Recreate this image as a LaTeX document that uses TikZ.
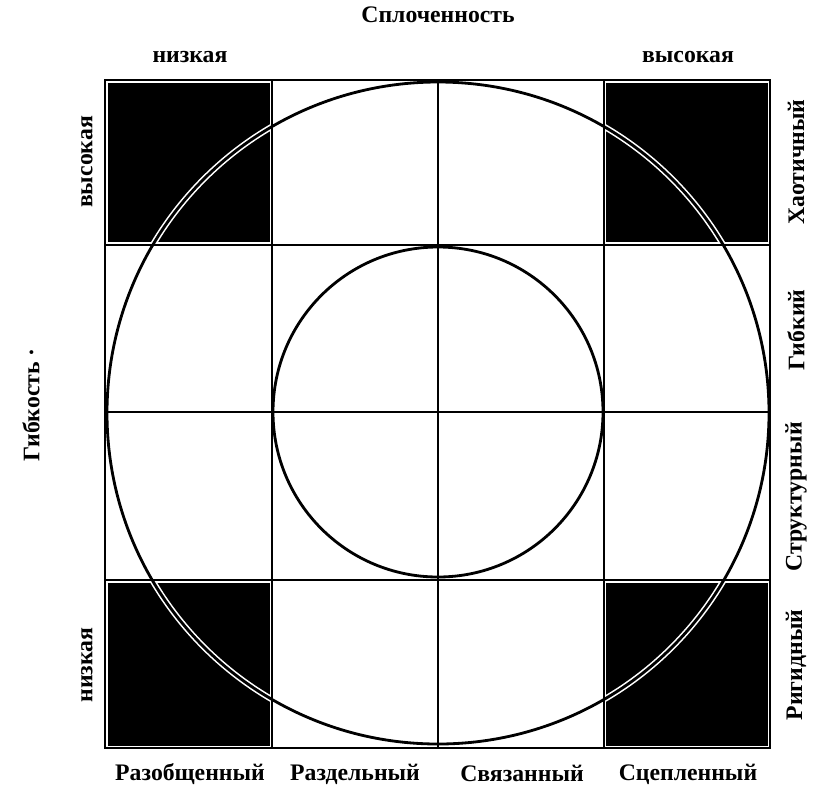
\documentclass[tikz,border=0pt]{standalone}
\usepackage{fontspec}
\setmainfont{Liberation Serif}
\usetikzlibrary{positioning}

\tikzset{
  axislabel/.style={font=\fontsize{13.5}{16}\selectfont\bfseries, inner sep=0pt},
  typelabel/.style={font=\fontsize{13.5}{16}\selectfont\bfseries, inner sep=0pt},
  cornercell/.style={fill=black},
  gridline/.style={line width=1.2pt},
  ringline/.style={line width=1.6pt},
}

\begin{document}
\begin{tikzpicture}[x=0.02cm, y=-0.02cm]
  \useasboundingbox (0,0) rectangle (827,798);

  % Black corner cells
  \fill[cornercell] (108,83) rectangle (270,242);
  \fill[cornercell] (606,83) rectangle (768,242);
  \fill[cornercell] (108,583) rectangle (270,746);
  \fill[cornercell] (606,583) rectangle (768,746);

  % Grid
  \draw[gridline] (105,80) rectangle (770,748);
  \foreach \gx in {272,438,604}
    \draw[gridline] (\gx,80) -- (\gx,748);
  \foreach \gy in {245,412,580}
    \draw[gridline] (105,\gy) -- (770,\gy);

  % Circles (white halo only inside the black cells)
  \begin{scope}
    \clip (108,83) rectangle (270,242) (606,83) rectangle (768,242)
          (108,583) rectangle (270,746) (606,583) rectangle (768,746);
    \draw[white, line width=3.4pt] (438,413) circle (331);
  \end{scope}
  \draw[ringline] (438,413) circle (331);
  \draw[ringline] (438,412) circle (165);

  % Top labels
  \node[axislabel, anchor=base] (cohesion) at (438,22) {Сплоченность};
  \node[axislabel, anchor=base] (lowtop) at (190,62) {низкая};
  \node[axislabel, anchor=base] (hightop) at (688,62) {высокая};

  % Left labels
  \node[axislabel, rotate=90] (flex) at (31,405) {Гибкость ·};
  \node[axislabel, rotate=90] (highleft) at (87,162) {высокая};
  \node[axislabel, rotate=90] (lowleft) at (87,665) {низкая};

  % Right labels
  \node[typelabel, rotate=90] (chaotic) at (796,162) {Хаотичный};
  \node[typelabel, rotate=90] (flexible) at (796,330) {Гибкий};
  \node[typelabel, rotate=90] (structured) at (796,497) {Структурный};
  \node[typelabel, rotate=90] (rigid) at (796,665) {Ригидный};

  % Bottom labels
  \node[typelabel, anchor=base] (disengaged) at (190,780) {Разобщенный};
  \node[typelabel, anchor=base] (separated) at (355,780) {Раздельный};
  \node[typelabel, anchor=base] (connected) at (522,781) {Связанный};
  \node[typelabel, anchor=base] (enmeshed) at (688,780) {Сцепленный};
\end{tikzpicture}
\end{document}
